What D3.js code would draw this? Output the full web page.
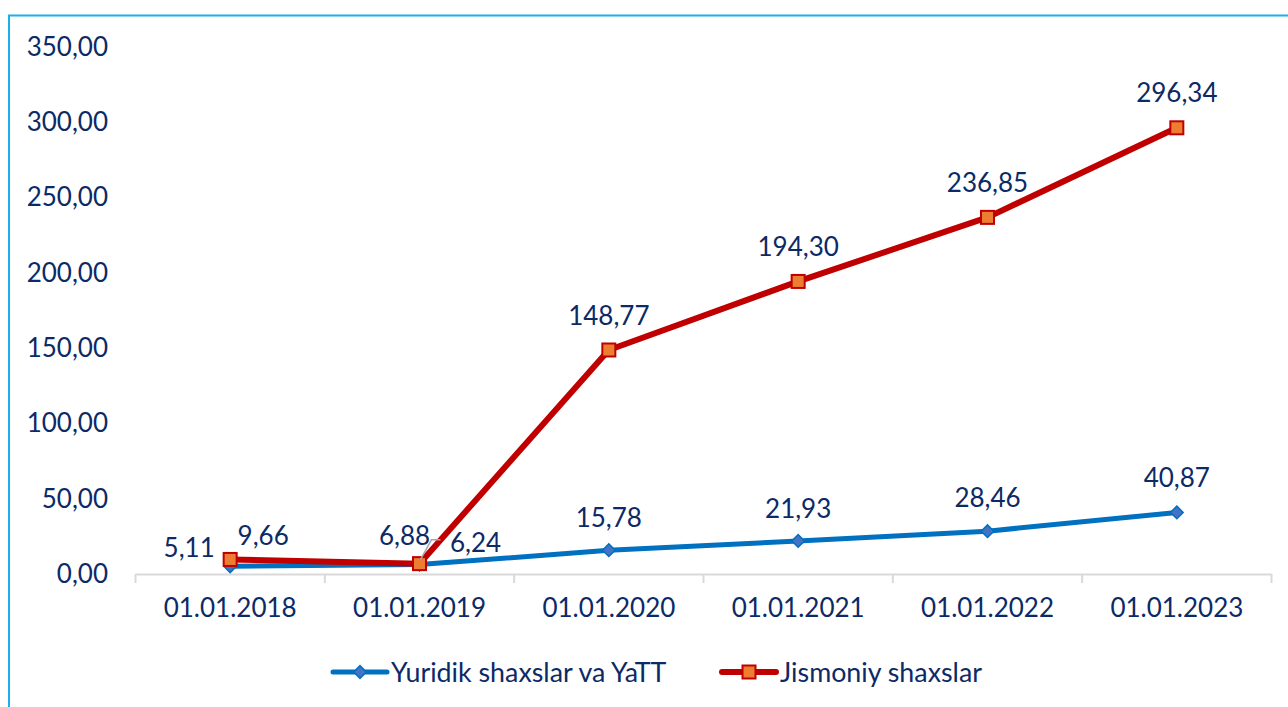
<!DOCTYPE html>
<html>
<head>
<meta charset="utf-8">
<script src="https://cdn.jsdelivr.net/npm/d3@7"></script>
<style>
  html, body { margin: 0; padding: 0; background: #fff; }
  svg { display: block; font-family: Lato, "Open Sans", sans-serif; }
</style>
</head>
<body>
<div id="chart"></div>
<script>
// categories and series values
const categories = ["01.01.2018", "01.01.2019", "01.01.2020", "01.01.2021", "01.01.2022", "01.01.2023"];
const yuridikValues = [5.11, 6.24, 15.78, 21.93, 28.46, 40.87];
const jismoniyValues = [9.66, 6.88, 148.77, 194.30, 236.85, 296.34];
const seriesNames = ["Yuridik shaxslar va YaTT", "Jismoniy shaxslar"];
const yTicks = [0, 50, 100, 150, 200, 250, 300, 350];

// label nudges (dx, dy from point) where excel labels were moved
const yuridikNudge = [[-41, -19], [56, -23], [0, -33], [0, -33], [0, -34], [0, -35]];
const jismoniyNudge = [[33, -24], [-15, -29], [0, -35], [0, -35], [0, -35], [0, -36]];

const width = 1288, height = 707;
const textColor = "#0c2a66";
const blue = "#0070C0", red = "#C00000";

const locale = d3.formatLocale({decimal: ",", thousands: " ", grouping: [3], currency: ["", ""]});
const fmt = locale.format(".2f");

const svg = d3.select('#chart').append('svg')
    .attr('width', width)
    .attr('height', height);

// frame (only top and left edges visible)
svg.append('path')
    .attr('d', `M9,${height} V15.5 H${width}`)
    .attr('fill', 'none')
    .attr('stroke', '#1CB0EA')
    .attr('stroke-width', 2);

const x = d3.scaleBand().domain(categories).range([135.5, 1271.5]);
const y = d3.scaleLinear().domain([0, 350]).range([574, 47]);
const cx = c => x(c) + x.bandwidth() / 2;

// y axis labels
const yAxis = svg.append('g')
    .attr('transform', 'translate(108,0)')
    .call(d3.axisLeft(y).tickValues(yTicks).tickSize(0).tickPadding(0).tickFormat(fmt));
yAxis.select('.domain').remove();
yAxis.selectAll('text')
    .attr('fill', textColor)
    .style('font-size', '26px')
    .style('font-family', 'Lato, sans-serif');

// x axis
const xAxis = svg.append('g')
    .attr('transform', `translate(0,${y(0)})`)
    .call(d3.axisBottom(x).tickSize(0).tickPadding(25));
xAxis.select('.domain').remove();
xAxis.selectAll('text')
    .attr('fill', textColor)
    .style('font-size', '26px')
    .style('font-family', 'Lato, sans-serif');

svg.append('line')
    .attr('x1', x.range()[0]).attr('x2', x.range()[1])
    .attr('y1', y(0) + 0.5).attr('y2', y(0) + 0.5)
    .attr('stroke', '#D9D9D9').attr('stroke-width', 2);

const bounds = categories.map(c => x(c)).concat([x.range()[1]]);
svg.selectAll('.xtick')
    .data(bounds)
    .join('line')
    .attr('class', 'xtick')
    .attr('x1', d => d).attr('x2', d => d)
    .attr('y1', y(0)).attr('y2', y(0) + 9)
    .attr('stroke', '#D9D9D9').attr('stroke-width', 2);

const line = d3.line()
    .x((d, i) => cx(categories[i]))
    .y(d => y(d));

// blue series
svg.append('path')
    .datum(yuridikValues)
    .attr('d', line)
    .attr('fill', 'none')
    .attr('stroke', blue)
    .attr('stroke-width', 5)
    .attr('stroke-linejoin', 'round');

svg.selectAll('.diamond')
    .data(yuridikValues)
    .join('path')
    .attr('class', 'diamond')
    .attr('d', d3.symbol(d3.symbolSquare, 80))
    .attr('transform', (d, i) => `translate(${cx(categories[i])},${y(d)}) rotate(45)`)
    .attr('fill', '#4472C4')
    .attr('stroke', blue)
    .attr('stroke-width', 1.5);

// red series
svg.append('path')
    .datum(jismoniyValues)
    .attr('d', line)
    .attr('fill', 'none')
    .attr('stroke', red)
    .attr('stroke-width', 6)
    .attr('stroke-linejoin', 'round');

svg.selectAll('.sq')
    .data(jismoniyValues)
    .join('rect')
    .attr('class', 'sq')
    .attr('x', (d, i) => cx(categories[i]) - 6.5)
    .attr('y', d => y(d) - 6.5)
    .attr('width', 13).attr('height', 13)
    .attr('fill', '#ED7D31')
    .attr('stroke', red)
    .attr('stroke-width', 2);

// leader line for moved 6,88 label
svg.append('polyline')
    .attr('points', `${cx(categories[1]) + 1},${y(jismoniyValues[1]) - 4} ${cx(categories[1]) + 12},${y(jismoniyValues[1]) - 24} ${cx(categories[1]) + 21},${y(jismoniyValues[1]) - 24}`)
    .attr('fill', 'none')
    .attr('stroke', '#A6A6A6')
    .attr('stroke-width', 1.5);

// data labels
function addLabels(values, nudge) {
    svg.append('g').selectAll('text')
        .data(values)
        .join('text')
        .attr('x', (d, i) => cx(categories[i]) + nudge[i][0])
        .attr('y', (d, i) => y(d) + nudge[i][1])
        .attr('text-anchor', 'middle')
        .attr('dominant-baseline', 'central')
        .attr('fill', textColor)
        .style('font-size', '26px')
        .text(d => fmt(d));
}
addLabels(yuridikValues, yuridikNudge);
addLabels(jismoniyValues, jismoniyNudge);

// legend
const legendY = 672;
const legendItems = [
    {name: seriesNames[0], x: 333, color: blue, marker: 'diamond'},
    {name: seriesNames[1], x: 722, color: red, marker: 'square'}
];
legendItems.forEach(item => {
    const g = svg.append('g');
    g.append('line')
        .attr('x1', item.x).attr('x2', item.x + 54)
        .attr('y1', legendY).attr('y2', legendY)
        .attr('stroke', item.color)
        .attr('stroke-width', item.marker === 'diamond' ? 5 : 6)
        .attr('stroke-linecap', 'round');
    if (item.marker === 'diamond') {
        g.append('path')
            .attr('d', d3.symbol(d3.symbolSquare, 80))
            .attr('transform', `translate(${item.x + 27},${legendY}) rotate(45)`)
            .attr('fill', '#4472C4').attr('stroke', blue).attr('stroke-width', 1.5);
    } else {
        g.append('rect')
            .attr('x', item.x + 27 - 6.5).attr('y', legendY - 6.5)
            .attr('width', 13).attr('height', 13)
            .attr('fill', '#ED7D31').attr('stroke', red).attr('stroke-width', 2);
    }
    g.append('text')
        .attr('x', item.x + 58)
        .attr('y', legendY)
        .attr('dominant-baseline', 'central')
        .attr('fill', textColor)
        .style('font-size', '26.8px')
        .text(item.name);
});
</script>
</body>
</html>
